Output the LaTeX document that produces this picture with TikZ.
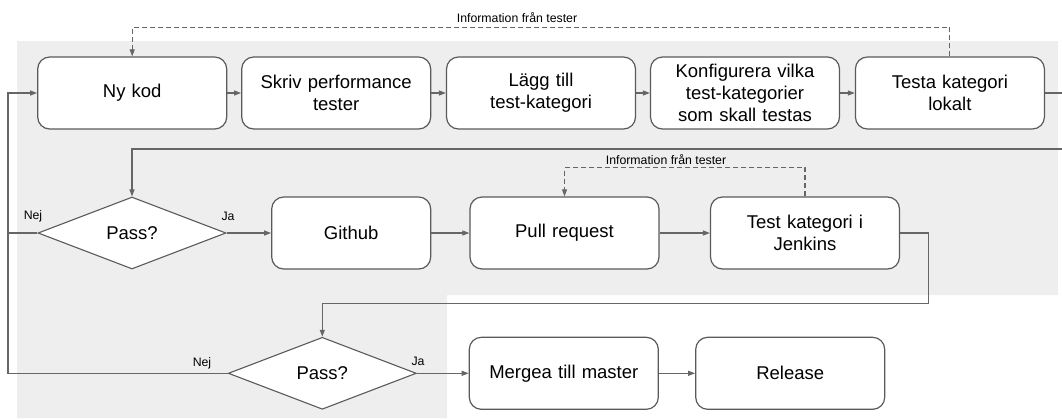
\documentclass[tikz,border=0pt]{standalone}
\usepackage{fontspec}
\setmainfont{Liberation Sans}
\usetikzlibrary{shapes.geometric,arrows.meta}
\definecolor{bgC}{HTML}{EEEEEE}
\definecolor{lineC}{HTML}{666666}
\definecolor{boxC}{HTML}{5A5A5A}
\tikzset{
  stepbox/.style={draw=boxC, line width=1.2pt, fill=white, rounded corners=12pt,
    minimum width=189pt, minimum height=72pt, inner sep=0pt, align=center,
    text width=185pt, font=\fontsize{18.5}{22}\selectfont},
  decision/.style={draw=boxC, line width=1.1pt, fill=white, shape=diamond,
    minimum width=188pt, minimum height=72pt, inner sep=0pt,
    font=\fontsize{18.5}{22}\selectfont},
  conn/.style={draw=lineC, line width=1.1pt, -{Triangle[length=7pt,width=5pt]}},
  plain/.style={draw=lineC, line width=1.1pt},
  dashline/.style={draw=lineC, line width=1.1pt, dash pattern=on 5pt off 3pt},
  lbl/.style={font=\fontsize{12.3}{14}\selectfont, inner sep=0pt}
}
\begin{document}
\begin{tikzpicture}[x=1pt,y=-1pt]
\useasboundingbox (0,0) rectangle (1062,418);
\fill[bgC] (17,41) -- (1058,41) -- (1058,295) -- (447,295) -- (447,418) -- (17,418) -- cycle;

% top row
\node[stepbox] (N) at (132.2,93) {Ny kod};
\node[stepbox] (S) at (336.2,93) {Skriv performance\\tester};
\node[stepbox] (L) at (541,93) {Lägg till\\test-kategori};
\node[stepbox] (K) at (745,93) {Konfigurera vilka\\test-kategorier\\som skall testas};
\node[stepbox] (T) at (949.9,93) {Testa kategori\\lokalt};

% second row
\node[decision] (D1) at (132,233) {Pass?};
\node[stepbox, minimum width=159pt, text width=155pt] (G) at (351.2,233) {Github};
\node[stepbox] (P) at (564.5,233) {Pull request};
\node[stepbox] (J) at (805,233) {Test kategori i\\Jenkins};

% third row
\node[decision] (D2) at (322.3,373.3) {Pass?};
\node[stepbox] (M) at (563.8,373.3) {Mergea till master};
\node[stepbox] (R) at (790.2,373.3) {Release};

% coordinates
\coordinate (ctop) at (540,27.3);
\coordinate (cr) at (1063,149);
\coordinate (cl) at (8,233);
\coordinate (cm) at (685,167.7);
\coordinate (cj) at (928.7,303.3);

% connectors
\draw[conn] (N) -- (S);
\draw[conn] (S) -- (L);
\draw[conn] (L) -- (K);
\draw[conn] (K) -- (T);
\draw[dashline, -{Triangle[length=7pt,width=5pt]}] (T.north) |- (ctop) -| (N.north);
\node[lbl] (info1) at (517,18) {Information från tester};
\draw[conn] (T.east) -| (cr) -| (D1.north);

\draw[plain] (D1.west) -- (cl);
\draw[conn] (D2.west) -| (cl) |- (N.west);
\draw[conn] (D1.east) -- (G.west);
\draw[conn] (G) -- (P);
\draw[conn] (P) -- (J);
\draw[dashline, -{Triangle[length=7pt,width=5pt]}] (J.north) |- (cm) -| (P.north);
\node[lbl] (info2) at (666,159.3) {Information från tester};
\draw[conn] (J.east) -| (cj) -| (D2.north);
\draw[conn] (D2.east) -- (M.west);
\draw[conn] (M) -- (R);

% labels
\node[lbl] (nej1) at (33,216) {Nej};
\node[lbl] (ja1) at (228,216) {Ja};
\node[lbl] (nej2) at (202,363) {Nej};
\node[lbl] (ja2) at (418,361) {Ja};
\end{tikzpicture}
\end{document}
